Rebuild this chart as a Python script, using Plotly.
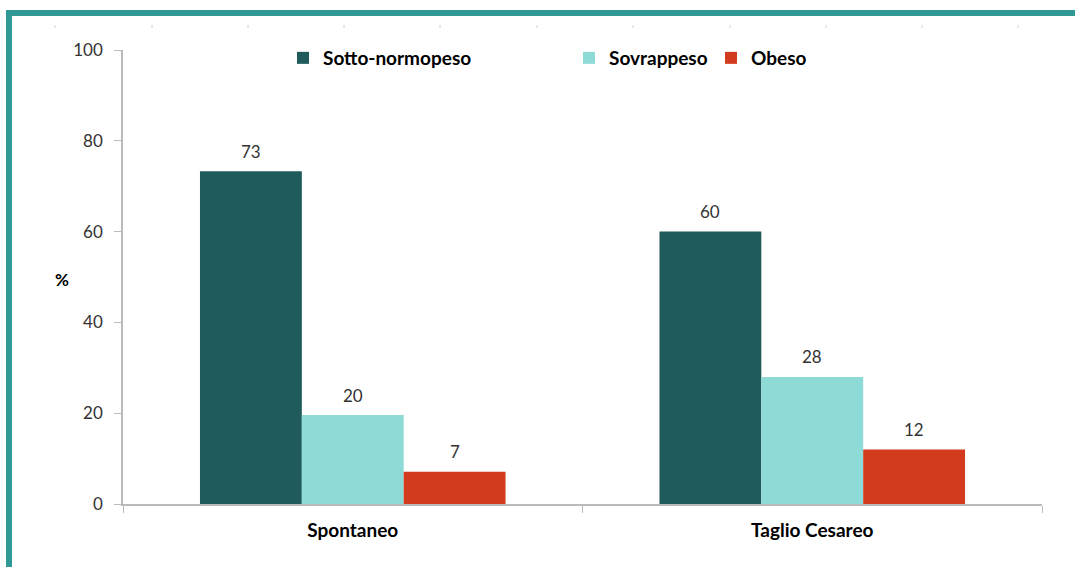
import plotly.graph_objects as go

categories = ["Spontaneo", "Taglio Cesareo"]
series_names = ["Sotto-normopeso", "Sovrappeso", "Obeso"]
sotto_normopeso = [73.3, 60.0]
sovrappeso = [19.6, 28.0]
obeso = [7.1, 12.0]
y_ticks = [0, 20, 40, 60, 80, 100]

colors = ["#1E5B5A", "#8EDAD7", "#D33B1E"]
values = [sotto_normopeso, sovrappeso, obeso]

W, H = 1075, 567
L, R, T, B = 123, 33, 50, 63
pw, ph = W - L - R, H - T - B
BARGAP = 0.335

def px_x(x):
    return (x - L) / pw

def px_y(y):
    return (H - B - y) / ph

fig = go.Figure()
legend_x = [283, 569, 711]
bar_w = (1 - BARGAP) / len(series_names)
annotations = []
for i, (name, vals, col) in enumerate(zip(series_names, values, colors)):
    lg = "legend" if i == 0 else f"legend{i+1}"
    fig.add_trace(go.Bar(
        x=categories, y=vals, name=name, marker=dict(color=col, line=dict(width=0)),
        legend=lg,
    ))
    for k, v in enumerate(vals):
        annotations.append(dict(
            x=k + (i - 1) * bar_w, y=v, xref="x", yref="y", text=f"{v:.0f}",
            showarrow=False, yanchor="middle", yshift=20,
            font=dict(family="Lato", size=17, color="#333333"),
        ))

annotations.append(dict(text="<b>%</b>", xref="paper", yref="paper", x=px_x(53), y=px_y(279),
                        showarrow=False, font=dict(family="Lato", size=17, color="#000000")))

layout_legends = {}
for i, lx in enumerate(legend_x):
    key = "legend" if i == 0 else f"legend{i+1}"
    layout_legends[key] = dict(
        x=lx / W, y=1 - 58 / H, xref="container", yref="container",
        xanchor="left", yanchor="middle", orientation="h",
        font=dict(family="Lato", size=19, color="#000000", weight="bold"),
        bgcolor="rgba(0,0,0,0)", itemclick=False,
    )

shapes = [
    # teal frame
    dict(type="rect", xref="paper", yref="paper", x0=px_x(6), x1=px_x(W + 5),
         y0=px_y(16), y1=px_y(10), fillcolor="#2F9A95", line=dict(width=0), layer="above"),
    dict(type="rect", xref="paper", yref="paper", x0=px_x(6), x1=px_x(12),
         y0=px_y(H + 5), y1=px_y(10), fillcolor="#2F9A95", line=dict(width=0), layer="above"),
]
for tx in [55, 152, 248, 344, 440, 537, 633, 730, 826, 922, 1018]:
    shapes.append(dict(type="line", xref="paper", yref="paper", x0=px_x(tx), x1=px_x(tx),
                       y0=px_y(28), y1=px_y(25), line=dict(color="#D0D0D0", width=1)))

fig.update_layout(
    width=W, height=H, autosize=False,
    margin=dict(l=L, r=R, t=T, b=B, pad=0, autoexpand=False),
    paper_bgcolor="white", plot_bgcolor="white",
    barmode="group", bargap=BARGAP, bargroupgap=0,
    font=dict(family="Lato", size=17, color="#333333"),
    showlegend=True,
    shapes=shapes,
    annotations=annotations,
    xaxis=dict(
        showline=True, linecolor="#BBBBBB", linewidth=1.5,
        ticks="outside", ticklen=7, tickcolor="#BBBBBB", tickson="boundaries",
        tickfont=dict(family="Lato", size=19, color="#000000", weight="bold"),
        ticklabelstandoff=8, showgrid=False, zeroline=False,
    ),
    yaxis=dict(
        range=[0, 100], tickvals=y_ticks, showline=True, linecolor="#BBBBBB", linewidth=1.5,
        ticks="outside", ticklen=7, tickcolor="#BBBBBB",
        tickfont=dict(family="Lato", size=17, color="#333333"),
        ticklabelstandoff=8, showgrid=False, zeroline=False,
    ),
    **layout_legends,
)

fig.write_html("out.html", config={"displayModeBar": False},
               post_script="document.body.style.margin='0';")
